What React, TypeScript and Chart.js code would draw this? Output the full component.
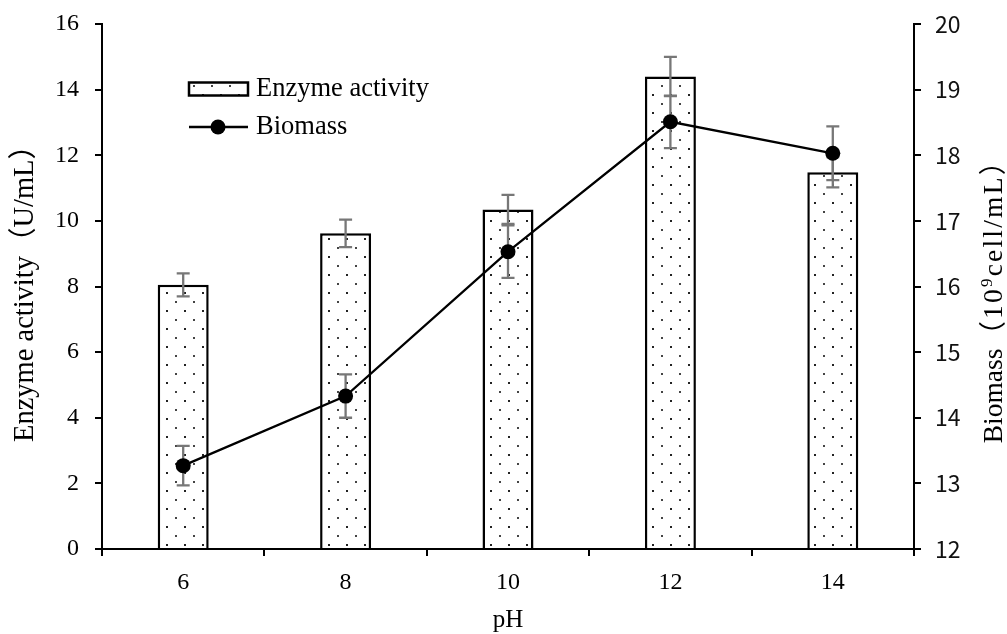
import React, { useEffect, useRef } from 'react';
import { Chart, registerables } from 'chart.js';

Chart.register(...registerables);

// ---- data ----
const categories = ['6', '8', '10', '12', '14'];
const enzymeActivity = [8.05, 9.62, 10.35, 14.4, 11.48];
const enzymeError = [0.35, 0.42, 0.44, 0.6, 0.46];
const biomass = [13.27, 14.33, 16.53, 18.51, 18.03];
const biomassError = [0.3, 0.33, 0.4, 0.4, 0.41];
const enzymeTicks = [0, 2, 4, 6, 8, 10, 12, 14, 16];
const biomassTicks = [12, 13, 14, 15, 16, 17, 18, 19, 20];

const xTitle = 'pH';
const enzymeTitle = 'Enzyme activity（U/mL）';
// right title parts: main text, text before superscript, superscript, text after
const biomassTitleParts = ['Biomass', '（10', '9', 'cell/mL）'];
const enzymeLabel = 'Enzyme activity';
const biomassLabel = 'Biomass';

const SERIF = "'Liberation Serif', 'Times New Roman', 'Noto Sans CJK SC', serif";
const SANS = "'Noto Sans CJK SC', 'DejaVu Sans', sans-serif";

function makeDotPattern(): CanvasPattern | string {
  const c = document.createElement('canvas');
  c.width = 18;
  c.height = 18;
  const g = c.getContext('2d');
  if (!g) return '#fff';
  g.fillStyle = '#fff';
  g.fillRect(0, 0, 18, 18);
  g.fillStyle = '#222';
  g.fillRect(4, 4, 2, 2);
  g.fillStyle = '#444';
  g.fillRect(13, 13, 2, 2);
  return g.createPattern(c, 'repeat') || '#fff';
}

function drawErrors(chart: any, index: number, errs: number[]) {
  const meta = chart.getDatasetMeta(index);
  const ds = chart.data.datasets[index];
  const yScale = chart.scales[meta.yAxisID];
  const ctx = chart.ctx;
  ctx.save();
  ctx.strokeStyle = '#777777';
  ctx.lineWidth = 2.3;
  meta.data.forEach((el: any, i: number) => {
    const v = ds.data[i] as number;
    const e = errs[i];
    const x = el.x;
    const yt = yScale.getPixelForValue(v + e);
    const yb = yScale.getPixelForValue(v - e);
    ctx.beginPath();
    ctx.moveTo(x, yt);
    ctx.lineTo(x, yb);
    ctx.moveTo(x - 6.5, yt);
    ctx.lineTo(x + 6.5, yt);
    ctx.moveTo(x - 6.5, yb);
    ctx.lineTo(x + 6.5, yb);
    ctx.stroke();
  });
  ctx.restore();
}

const errorBarPlugin = {
  id: 'errorBars',
  afterDatasetDraw(chart: any, args: any) {
    if (args.index === 0) drawErrors(chart, 0, enzymeError);
  },
  beforeDatasetDraw(chart: any, args: any) {
    if (args.index === 1) drawErrors(chart, 1, biomassError);
  },
};

function drawSpaced(ctx: CanvasRenderingContext2D, text: string, x: number, y: number, sp: number) {
  let cur = x;
  for (const ch of Array.from(text)) {
    ctx.fillText(ch, cur, y);
    cur += ctx.measureText(ch).width + sp;
  }
  return cur - x;
}

function spacedWidth(ctx: CanvasRenderingContext2D, text: string, sp: number) {
  let w = 0;
  for (const ch of Array.from(text)) w += ctx.measureText(ch).width + sp;
  return w;
}

const legendPlugin = {
  id: 'floatingLegend',
  afterDraw(chart: any) {
    const { ctx, chartArea } = chart;
    const x0 = chartArea.left + 87;
    const y1 = chartArea.top + 65;
    const y2 = chartArea.top + 103;
    const w = 59;
    ctx.save();
    // bar item
    ctx.fillStyle = chart.data.datasets[0].backgroundColor;
    ctx.fillRect(x0, y1 - 6.5, w, 13);
    ctx.strokeStyle = '#000';
    ctx.lineWidth = 2.5;
    ctx.strokeRect(x0, y1 - 6.5, w, 13);
    // line item
    ctx.beginPath();
    ctx.lineWidth = 2.3;
    ctx.moveTo(x0, y2);
    ctx.lineTo(x0 + w, y2);
    ctx.stroke();
    ctx.beginPath();
    ctx.fillStyle = '#000';
    ctx.arc(x0 + 29, y2, 7.5, 0, Math.PI * 2);
    ctx.fill();
    // texts
    ctx.font = `26.5px ${SERIF}`;
    ctx.textBaseline = 'middle';
    ctx.textAlign = 'left';
    ctx.fillText(enzymeLabel, x0 + w + 8, y1);
    ctx.fillText(biomassLabel, x0 + w + 8, y2);
    ctx.restore();

    // right axis title, reading bottom-to-top, with a superscript
    ctx.save();
    const size = 27.5;
    const supSize = 17;
    const sp = 2.2;
    const [m, a, sup, b] = biomassTitleParts;
    ctx.font = `${size}px ${SERIF}`;
    const wm = ctx.measureText(m).width;
    const wa = spacedWidth(ctx, a, sp);
    const wb = spacedWidth(ctx, b, sp);
    ctx.font = `${supSize}px ${SERIF}`;
    const ws = ctx.measureText(sup).width + sp;
    const total = wm + wa + ws + wb;
    const cx = chart.width - 12.5;
    const cy = (chartArea.top + chartArea.bottom) / 2 + 8;
    ctx.translate(cx, cy);
    ctx.rotate(-Math.PI / 2);
    ctx.fillStyle = '#000';
    ctx.textBaseline = 'middle';
    ctx.textAlign = 'left';
    let x = -total / 2;
    ctx.font = `${size}px ${SERIF}`;
    ctx.fillText(m, x, 0);
    x += wm;
    x += drawSpaced(ctx, a, x, 0, sp);
    ctx.font = `${supSize}px ${SERIF}`;
    ctx.fillText(sup, x, -7);
    x += ws;
    ctx.font = `${size}px ${SERIF}`;
    drawSpaced(ctx, b, x, 0, sp);
    ctx.restore();
  },
};

export default function App() {
  const ref = useRef<HTMLCanvasElement | null>(null);

  useEffect(() => {
    if (!ref.current) return;
    const pattern = makeDotPattern();
    const chart = new Chart(ref.current, {
      type: 'bar',
      data: {
        labels: categories,
        datasets: [
          {
            type: 'bar',
            label: enzymeLabel,
            data: enzymeActivity,
            yAxisID: 'y',
            backgroundColor: pattern as any,
            borderColor: '#000',
            borderWidth: 2.5,
            barPercentage: 0.314,
            categoryPercentage: 1,
            order: 2,
          } as any,
          {
            type: 'line',
            label: biomassLabel,
            data: biomass,
            yAxisID: 'y1',
            borderColor: '#000',
            borderWidth: 2.3,
            backgroundColor: '#000',
            pointRadius: 7.5,
            pointBorderWidth: 0,
            pointBackgroundColor: '#000',
            tension: 0,
            order: 1,
          } as any,
        ],
      },
      options: {
        responsive: false,
        animation: false,
        layout: { padding: { top: 24, left: 0, right: 0, bottom: 0 } },
        plugins: {
          legend: { display: false },
          tooltip: { enabled: false },
        },
        scales: {
          x: {
            type: 'category',
            offset: true,
            grid: {
              offset: true,
              drawOnChartArea: false,
              color: '#000',
              tickColor: '#000',
              lineWidth: 2,
              tickLength: 7,
            },
            border: { color: '#000', width: 2 },
            ticks: { color: '#000', font: { family: SERIF, size: 24 }, padding: 12 },
            title: {
              display: true,
              text: xTitle,
              color: '#000',
              font: { family: SERIF, size: 25, lineHeight: 1 },
              padding: { top: 0, bottom: 1.5 },
            },
            afterFit(s: any) {
              s.height = 85;
            },
          },
          y: {
            type: 'linear',
            position: 'left',
            min: enzymeTicks[0],
            max: enzymeTicks[enzymeTicks.length - 1],
            ticks: {
              stepSize: enzymeTicks[1] - enzymeTicks[0],
              color: '#000',
              font: { family: SERIF, size: 24 },
              padding: 16,
            },
            grid: {
              drawOnChartArea: false,
              color: '#000',
              tickColor: '#000',
              lineWidth: 2,
              tickLength: 7,
            },
            border: { color: '#000', width: 2 },
            title: {
              display: true,
              text: enzymeTitle,
              color: '#000',
              font: { family: SERIF, size: 28.5, lineHeight: 1 },
              padding: { top: 11.75, bottom: 0 },
            },
            afterFit(s: any) {
              s.width = 102;
              s.paddingTop = 0;
              s.paddingBottom = 0;
            },
          },
          y1: {
            type: 'linear',
            position: 'right',
            min: biomassTicks[0],
            max: biomassTicks[biomassTicks.length - 1],
            ticks: {
              stepSize: biomassTicks[1] - biomassTicks[0],
              color: '#111',
              font: { family: SANS, size: 23 },
              padding: 14,
            },
            grid: {
              drawOnChartArea: false,
              color: '#000',
              tickColor: '#000',
              lineWidth: 2,
              tickLength: 7,
            },
            border: { color: '#000', width: 2 },
            title: { display: false },
            afterFit(s: any) {
              s.width = 93;
              s.paddingTop = 0;
              s.paddingBottom = 0;
            },
          },
        },
      } as any,
      plugins: [errorBarPlugin, legendPlugin],
    });
    return () => chart.destroy();
  }, []);

  return (
    <div style={{ position: 'fixed', left: 0, top: 0, width: 1007, height: 634, background: '#fff' }}>
      <canvas ref={ref} width={1007} height={634} style={{ display: 'block' }} />
    </div>
  );
}
